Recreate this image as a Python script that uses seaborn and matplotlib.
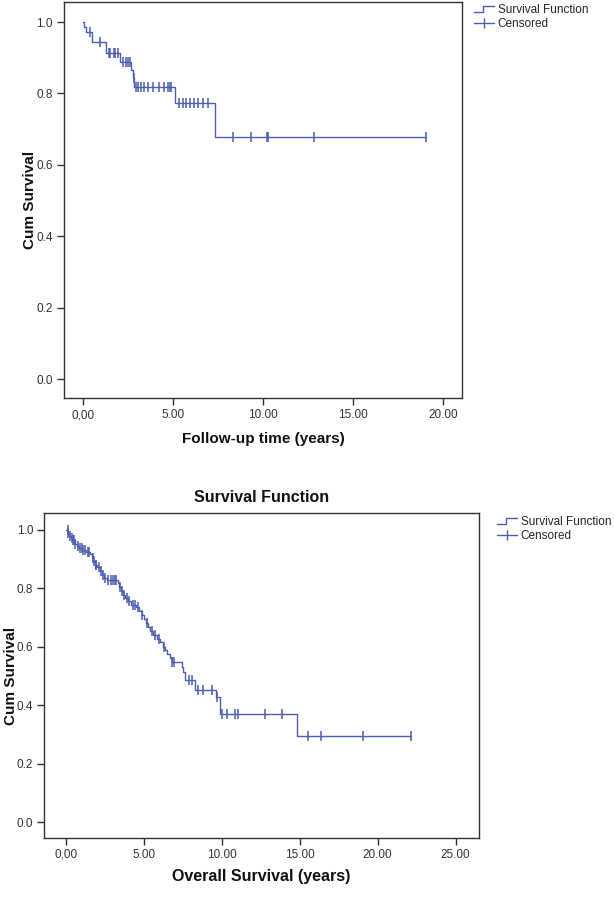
import numpy as np
import pandas as pd
import matplotlib
matplotlib.use("Agg")
import matplotlib.pyplot as plt
import seaborn as sns
from matplotlib.lines import Line2D
from matplotlib.legend_handler import HandlerBase

# tema visual
sns.set_theme(style="white")
plt.rcParams["font.family"] = ["Liberation Sans", "DejaVu Sans"]

BLUE = "#4b5eb0"
DARK = "#333333"

# --- panel 1: follow-up time ---
fu_event_t = [0.0, 0.05, 0.15, 0.52, 1.26, 2.06, 2.67, 2.80, 2.83, 5.11, 7.33]
fu_surv = [1.0, 0.986, 0.972, 0.944, 0.914, 0.889, 0.865, 0.842, 0.818, 0.774, 0.677]
fu_cens_t = [0.38, 0.94, 1.45, 1.52, 1.70, 1.80, 1.95, 2.24, 2.37, 2.52, 2.62, 2.81,
             2.95, 3.05, 3.20, 3.40, 3.60, 3.90, 4.20, 4.50, 4.75, 4.82, 4.88,
             5.35, 5.54, 5.72, 5.94, 6.17, 6.41, 6.65, 6.93,
             8.32, 9.33, 10.20, 10.30, 12.83, 19.06]
fu_end = 19.06
fu_xticks = [0, 5, 10, 15, 20]
fu_xlabels = ["0,00", "5.00", "10.00", "15.00", "20.00"]

# --- panel 2: overall survival ---
os_event_t = [0.0, 0.12, 0.20, 0.30, 0.40, 0.55, 0.70, 0.85, 1.05, 1.30, 1.55, 1.65,
              1.75, 1.85, 2.00, 2.15, 2.30, 2.45, 2.60, 3.30, 3.38, 3.50, 3.65, 3.80,
              3.95, 4.15, 4.50, 4.70, 4.85, 5.00, 5.10, 5.25, 5.40, 5.60, 5.85, 6.05,
              6.20, 6.35, 6.50, 6.65, 6.78, 7.42, 7.52, 7.63, 8.27, 9.60, 9.87, 14.79]
os_surv = [1.0, 0.990, 0.980, 0.972, 0.964, 0.952, 0.944, 0.936, 0.930, 0.925, 0.917, 0.905,
           0.893, 0.881, 0.872, 0.860, 0.845, 0.836, 0.828, 0.817, 0.803, 0.790, 0.778, 0.766,
           0.755, 0.744, 0.735, 0.722, 0.708, 0.694, 0.682, 0.668, 0.654, 0.641, 0.628, 0.615,
           0.601, 0.588, 0.574, 0.561, 0.548, 0.531, 0.514, 0.485, 0.451, 0.428, 0.371, 0.297]
os_cens_t = [0.10, 0.15, 0.25, 0.35, 0.45, 0.50, 0.60, 0.75, 0.90, 1.00, 1.10, 1.20,
             1.40, 1.50, 1.70, 1.80, 1.90, 1.95, 2.10, 2.25, 2.35, 2.50, 2.70, 2.90,
             3.00, 3.15, 3.20, 3.45, 3.60, 3.70, 3.90, 4.05, 4.30, 4.40, 4.60, 4.90,
             5.20, 5.50, 5.70, 5.95, 6.30, 6.80, 6.90, 7.90, 8.10, 8.48, 8.80, 9.34,
             9.70, 9.98, 10.30, 10.83, 11.04, 12.76, 13.83, 15.53, 16.33, 19.06, 22.16]
os_end = 22.16
os_xticks = [0, 5, 10, 15, 20, 25]
os_xlabels = ["0,00", "5.00", "10.00", "15.00", "20.00", "25.00"]

yticks = [0.0, 0.2, 0.4, 0.6, 0.8, 1.0]
ylabels = ["0.0", "0.2", "0.4", "0.6", "0.8", "1.0"]


def km_frame(times, surv, end):
    return pd.DataFrame({"t": list(times) + [end], "S": list(surv) + [surv[-1]]})


def cens_frame(times, steps_t, surv):
    idx = np.searchsorted(steps_t, times, side="right") - 1
    return pd.DataFrame({"t": times, "S": np.array(surv)[idx]})


class StepHandler(HandlerBase):
    # simbolo de escalon como en SPSS
    def create_artists(self, legend, orig_handle, xdescent, ydescent,
                       width, height, fontsize, trans):
        x0, y0 = -xdescent, -ydescent
        xs = [x0, x0 + width * 0.45, x0 + width * 0.45, x0 + width]
        ys = [y0 + height * 0.1, y0 + height * 0.1, y0 + height * 0.9, y0 + height * 0.9]
        ln = Line2D(xs, ys, color=orig_handle.get_color(), lw=1)
        ln.set_transform(trans)
        return [ln]


def draw_panel(ax, times, surv, end, cens_t, xticks, xlabels, xlim):
    sns.lineplot(data=km_frame(times, surv, end), x="t", y="S", drawstyle="steps-post",
                 color=BLUE, lw=1, estimator=None, sort=False, ax=ax)
    sns.scatterplot(data=cens_frame(cens_t, times, surv), x="t", y="S", marker="|",
                    s=42, color=BLUE, linewidth=1.1, ax=ax)
    ax.set_xlim(*xlim)
    ax.set_ylim(-0.052, 1.056)
    ax.set_xticks(xticks)
    ax.set_xticklabels(xlabels)
    ax.set_yticks(yticks)
    ax.set_yticklabels(ylabels)
    ax.tick_params(axis="both", direction="out", length=5, width=1, color=DARK,
                   labelsize=8.5, labelcolor=DARK, bottom=True, left=True, pad=3)
    for sp in ax.spines.values():
        sp.set_color(DARK)
        sp.set_linewidth(1)
    ax.set_ylabel("Cum Survival", fontsize=11, fontweight="bold", color="#111111")


fig = plt.figure(figsize=(6.14, 9.0), dpi=100)
ax1 = fig.add_axes([64 / 614, 1 - 398 / 900, 398 / 614, 396 / 900])
ax2 = fig.add_axes([44.3 / 614, 1 - 837.7 / 900, 434.7 / 614, 324.4 / 900])

draw_panel(ax1, fu_event_t, fu_surv, fu_end, fu_cens_t, fu_xticks, fu_xlabels, (-1.05, 21.05))
ax1.set_xlabel("Follow-up time (years)", fontsize=11, fontweight="bold", color="#111111", labelpad=8)
ax1.yaxis.set_label_coords(-0.068, 0.5)

draw_panel(ax2, os_event_t, os_surv, os_end, os_cens_t, os_xticks, os_xlabels, (-1.4, 26.5))
ax2.set_xlabel("Overall Survival (years)", fontsize=11.5, fontweight="bold", color="#111111", labelpad=6)
ax2.yaxis.set_label_coords(-0.06, 0.5)
ax2.set_title("Survival Function", fontsize=11.5, fontweight="bold", color="#111111", pad=8)

h_step = Line2D([], [], color=BLUE, lw=1)
h_cens = Line2D([], [], color=BLUE, lw=1, marker="|", markersize=7)
for anchor in [(474 / 614, 1 - 4 / 900), (497 / 614, 1 - 516 / 900)]:
    fig.legend([h_step, h_cens], ["Survival Function", "Censored"], loc="upper left",
               bbox_to_anchor=anchor, frameon=False, fontsize=8.5, handlelength=1.7,
               handletextpad=0.3, labelspacing=0.2, borderpad=0, borderaxespad=0,
               handler_map={h_step: StepHandler()})

fig.savefig("out.png", dpi=100)
